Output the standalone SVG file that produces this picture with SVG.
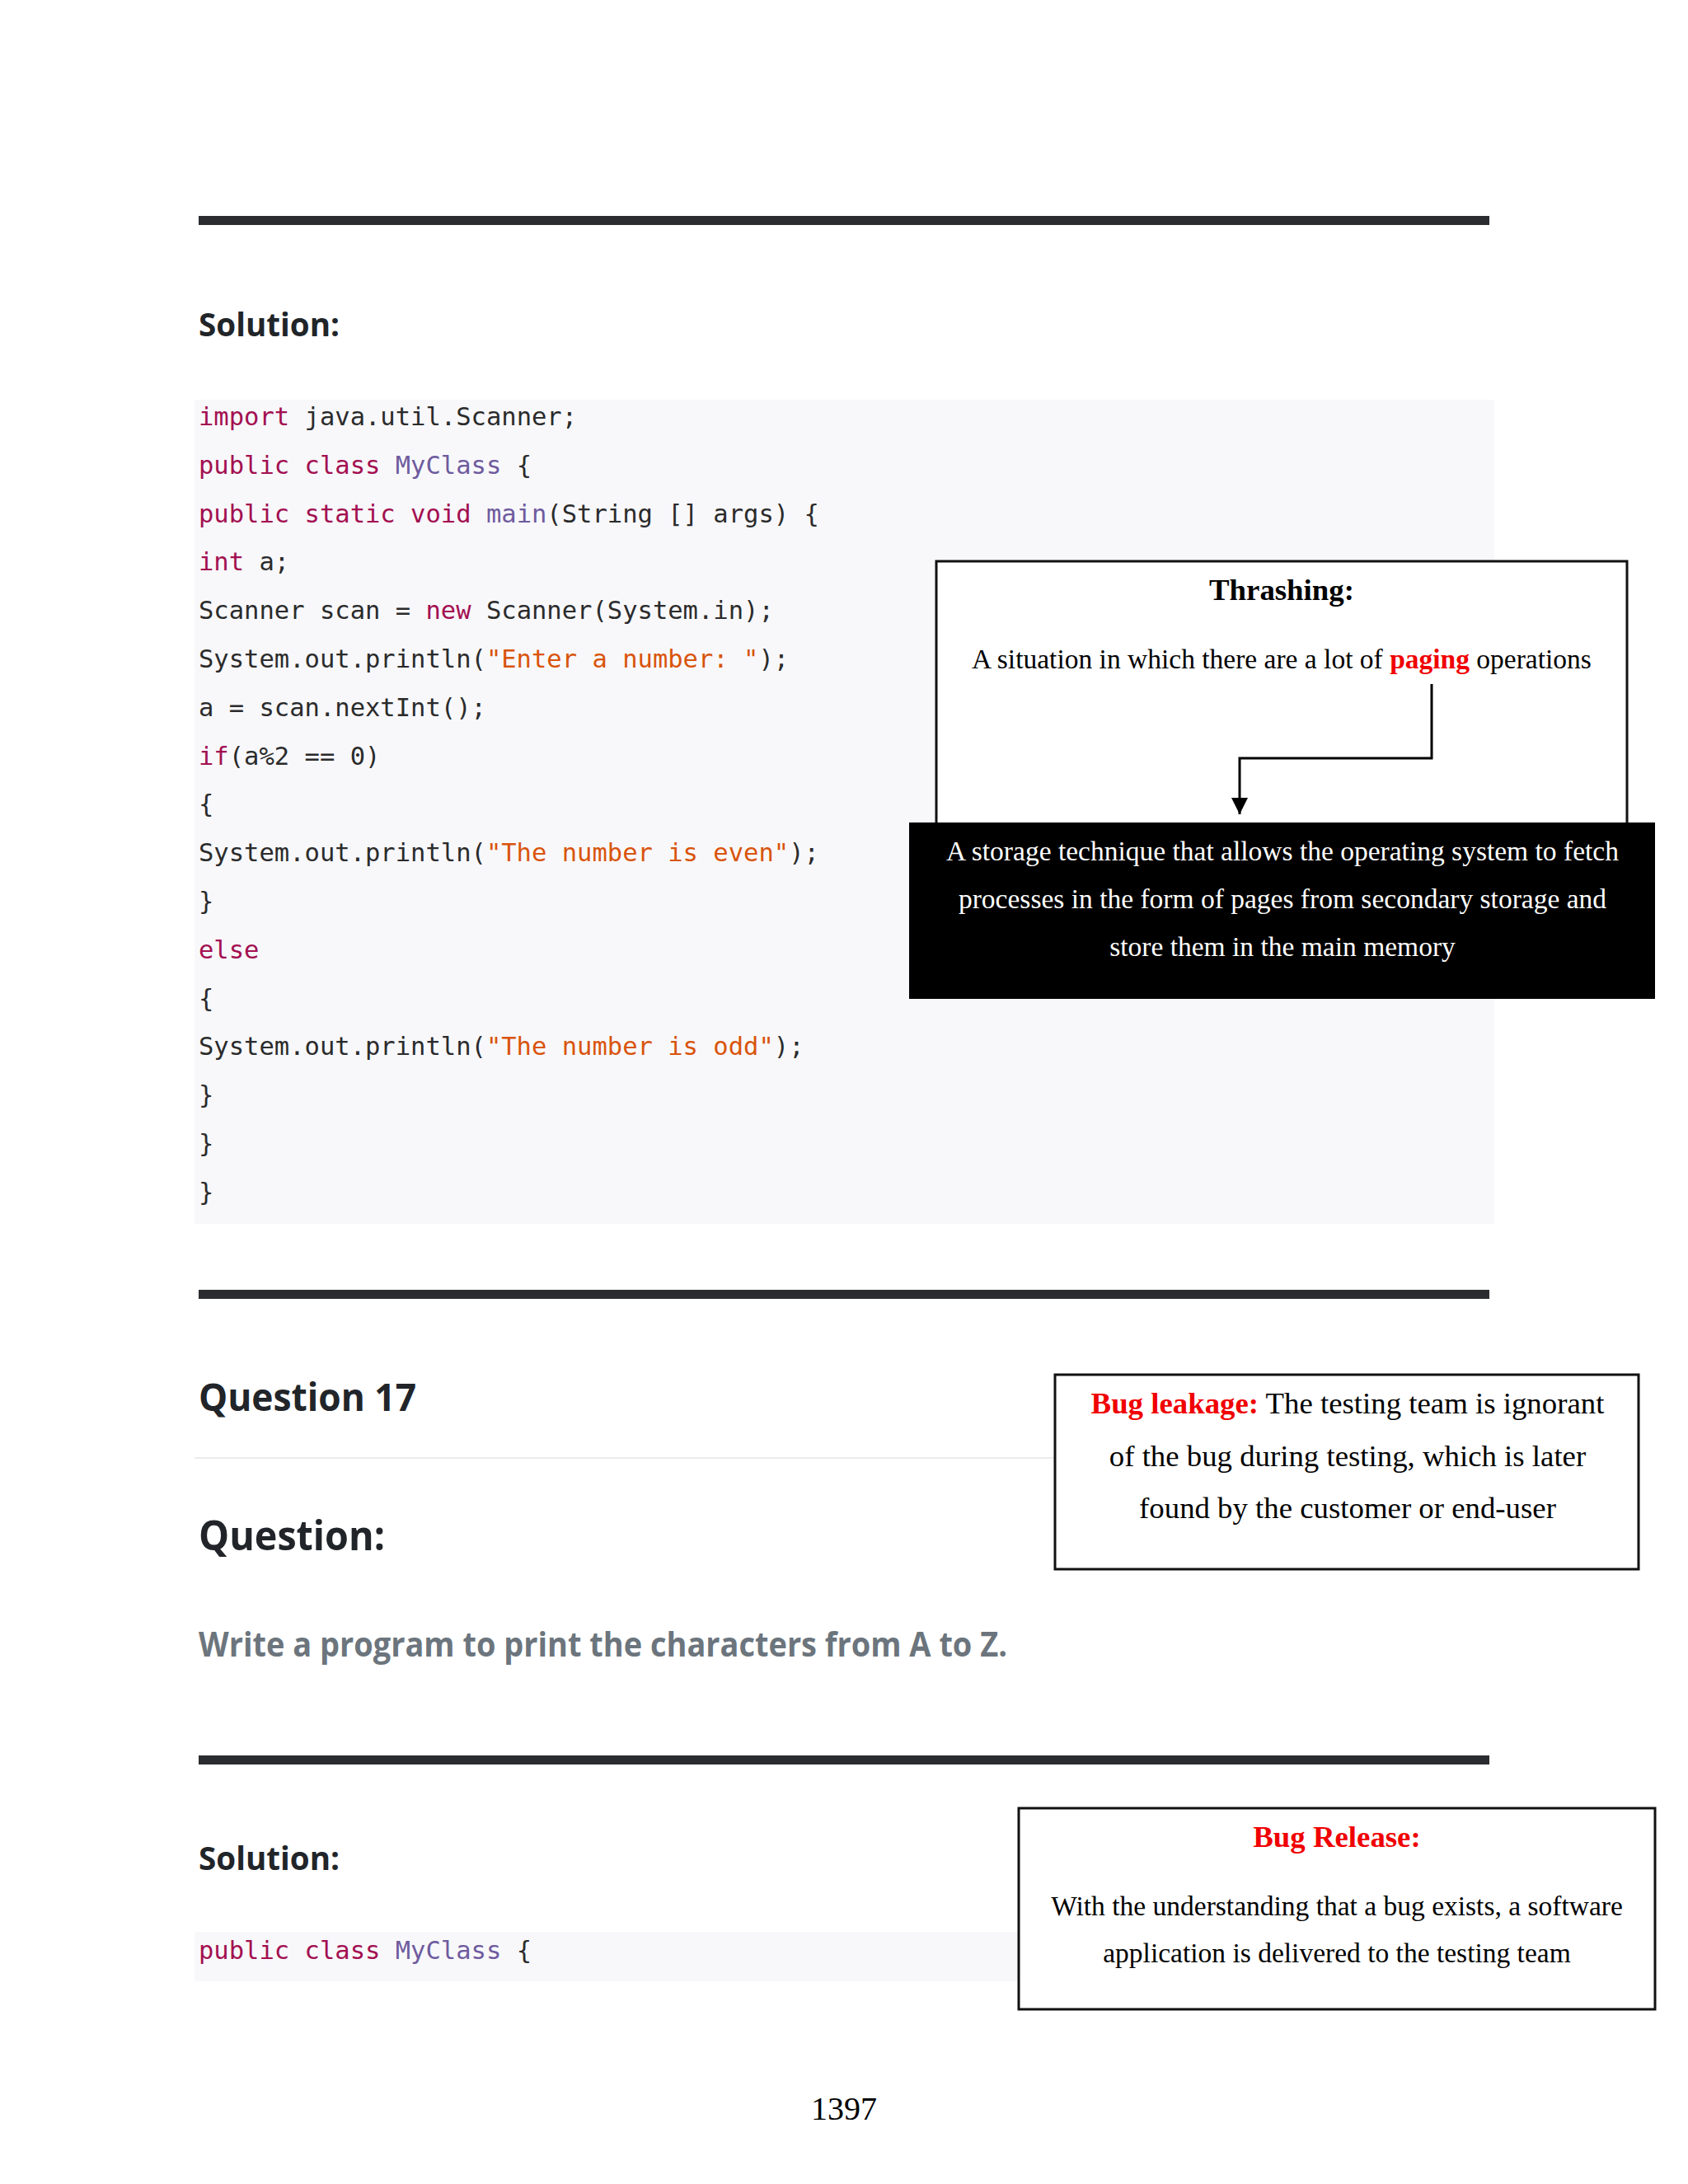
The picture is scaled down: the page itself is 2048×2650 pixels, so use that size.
<svg xmlns="http://www.w3.org/2000/svg" width="2048" height="2650" viewBox="0 0 2048 2650">
<style>
.rule{fill:#2a2c30}
.codebg{fill:#f8f8fb}
.code{font-family:"DejaVu Sans Mono","Liberation Mono",monospace;font-size:30.5px;fill:#2b2b2b}
.k{fill:#a31051}
.c{fill:#6f5b9e}
.s{fill:#d9540b}
.h{font-family:"Open Sans","Noto Sans",sans-serif;font-weight:700;fill:#212529}
.serif{font-family:"Liberation Serif","Times New Roman",serif;font-size:33.5px;fill:#000;text-anchor:middle}
.big{font-size:36.8px}
.b{font-weight:700}
.red{fill:#f00000}
.w{fill:#fff}
.box{fill:#fff;stroke:#111;stroke-width:3}
.conn{fill:none;stroke:#000;stroke-width:3}
</style>
<defs>
<marker id="arrow" markerUnits="userSpaceOnUse" markerWidth="20" markerHeight="20" refX="20" refY="10" orient="auto"><path d="M0 0L20 10L0 20Z" fill="#000"/></marker>
</defs>
<rect width="2048" height="2650" fill="#fff"/>
<g id="rules">
<rect class="rule" x="241" y="262" width="1566" height="11"/>
<rect class="rule" x="241" y="1565" width="1566" height="11"/>
<rect class="rule" x="241" y="2130" width="1566" height="11"/>
<rect x="236" y="1768" width="1044" height="2" fill="#ececec"/>
</g>
<g id="headings">
<text class="h" x="241" y="408" font-size="40" textLength="171" lengthAdjust="spacingAndGlyphs">Solution:</text>
<text class="h" x="241" y="1712" font-size="47" textLength="264" lengthAdjust="spacingAndGlyphs">Question 17</text>
<text class="h" x="241" y="1881" font-size="51" textLength="226" lengthAdjust="spacingAndGlyphs">Question:</text>
<text class="h" x="241" y="2010" font-size="41" textLength="981" lengthAdjust="spacingAndGlyphs" style="fill:#6c757d">Write a program to print the characters from A to Z.</text>
<text class="h" x="241" y="2269" font-size="40" textLength="171" lengthAdjust="spacingAndGlyphs">Solution:</text>
</g>
<g id="code-block-1">
<rect class="codebg" x="236" y="485" width="1577" height="1000"/>
<text class="code" x="241" y="516"><tspan class="k">import</tspan> java.util.Scanner;</text>
<text class="code" x="241" y="575"><tspan class="k">public class</tspan> <tspan class="c">MyClass</tspan> {</text>
<text class="code" x="241" y="634"><tspan class="k">public static void</tspan> <tspan class="c">main</tspan>(String [] args) {</text>
<text class="code" x="241" y="692"><tspan class="k">int</tspan> a;</text>
<text class="code" x="241" y="751">Scanner scan = <tspan class="k">new</tspan> Scanner(System.in);</text>
<text class="code" x="241" y="810">System.out.println(<tspan class="s">"Enter a number: "</tspan>);</text>
<text class="code" x="241" y="869">a = scan.nextInt();</text>
<text class="code" x="241" y="928"><tspan class="k">if</tspan>(a%2 == 0)</text>
<text class="code" x="241" y="986">{</text>
<text class="code" x="241" y="1045">System.out.println(<tspan class="s">"The number is even"</tspan>);</text>
<text class="code" x="241" y="1104">}</text>
<text class="code" x="241" y="1163"><tspan class="k">else</tspan></text>
<text class="code" x="241" y="1222">{</text>
<text class="code" x="241" y="1280">System.out.println(<tspan class="s">"The number is odd"</tspan>);</text>
<text class="code" x="241" y="1339">}</text>
<text class="code" x="241" y="1398">}</text>
<text class="code" x="241" y="1457">}</text>
</g>
<g id="code-block-2">
<rect class="codebg" x="236" y="2344" width="1000" height="60"/>
<text class="code" x="241" y="2377"><tspan class="k">public class</tspan> <tspan class="c">MyClass</tspan> {</text>
</g>
<g id="thrashing">
<rect class="box" x="1136" y="681" width="838" height="330"/>
<text class="serif big b" x="1555" y="728">Thrashing:</text>
<text class="serif" x="1555" y="811">A situation in which there are a lot of <tspan class="b red">paging</tspan> operations</text>
</g>
<g id="connectors">
<path class="conn" d="M1737 830V920H1504V988" marker-end="url(#arrow)"/>
</g>
<g id="paging-definition">
<rect x="1103" y="998" width="905" height="214" fill="#000"/>
<text class="serif w" x="1556" y="1044">A storage technique that allows the operating system to fetch</text>
<text class="serif w" x="1556" y="1102">processes in the form of pages from secondary storage and</text>
<text class="serif w" x="1556" y="1160">store them in the main memory</text>
</g>
<g id="bug-leakage">
<rect class="box" x="1280" y="1668" width="708" height="236"/>
<text class="serif big" x="1635" y="1715"><tspan class="b red">Bug leakage:</tspan> The testing team is ignorant</text>
<text class="serif big" x="1635" y="1779">of the bug during testing, which is later</text>
<text class="serif big" x="1635" y="1842">found by the customer or end-user</text>
</g>
<g id="bug-release">
<rect class="box" x="1236" y="2194" width="772" height="244"/>
<text class="serif big b red" x="1622" y="2241">Bug Release:</text>
<text class="serif" x="1622" y="2324">With the understanding that a bug exists, a software</text>
<text class="serif" x="1622" y="2381">application is delivered to the testing team</text>
</g>
<text id="page-number" class="serif" x="1024" y="2572" style="font-size:40px">1397</text>
</svg>
